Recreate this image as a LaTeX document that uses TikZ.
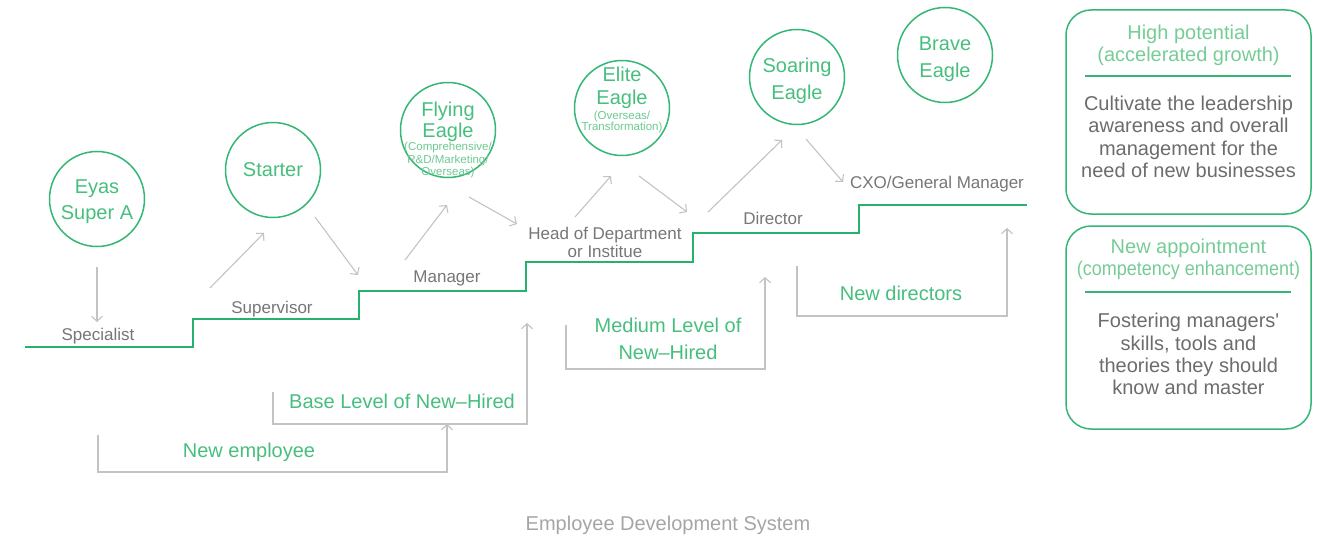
\documentclass[tikz,border=0pt]{standalone}
\usepackage{fontspec}
\setmainfont{Liberation Sans}
\usetikzlibrary{arrows.meta}
\definecolor{cgreen}{RGB}{52,182,116}
\definecolor{tgreen}{RGB}{72,190,126}
\definecolor{lgreen}{RGB}{110,200,145}
\definecolor{hgreen}{RGB}{118,204,150}
\definecolor{stepgreen}{RGB}{38,178,108}
\definecolor{lbl}{RGB}{118,118,118}
\definecolor{boxtxt}{RGB}{108,108,108}
\definecolor{arrgray}{RGB}{195,195,195}
\definecolor{ttl}{RGB}{165,165,165}
\tikzset{
  eaglecirc/.style={circle, draw=cgreen, line width=1.5pt, minimum size=95pt, inner sep=0pt},
  eagletxt/.style={text=tgreen, align=center, inner sep=0pt, font=\fontsize{20}{#1}\selectfont},
  smalltxt/.style={text=lgreen, align=center, inner sep=0pt, font=\fontsize{11.5}{#1}\selectfont},
  lvl/.style={text=lbl, align=center, inner sep=0pt, font=\fontsize{17}{18}\selectfont},
  grn/.style={text=tgreen, align=center, inner sep=0pt, font=\fontsize{20}{27}\selectfont},
  arr/.style={draw=arrgray, line width=1.1pt, -{Straight Barb[length=5pt,width=11pt]}},
  stair/.style={draw=stepgreen, line width=1.7pt},
  sidebox/.style={draw=cgreen, line width=1.5pt, rounded corners=25pt, minimum width=245pt, inner sep=0pt},
  sidehead/.style={text=hgreen, align=center, inner sep=0pt, font=\fontsize{20}{22}\selectfont},
  sidebody/.style={text=boxtxt, align=center, inner sep=0pt, font=\fontsize{20}{22.3}\selectfont},
  sep/.style={draw=cgreen, line width=1.3pt},
  titletxt/.style={text=ttl, inner sep=0pt, font=\fontsize{20}{24}\selectfont}
}
\begin{document}
\begin{tikzpicture}[x=1pt,y=-1pt]
\useasboundingbox (0,0) rectangle (1335,540);

% staircase
\draw[stair] (25,347) -- (193,347) -- (193,319) -- (359,319) -- (359,291) -- (526,291)
  -- (526,262) -- (693,262) -- (693,233) -- (859,233) -- (859,205) -- (1027,205);

% eagle circles
\node[eaglecirc] (eyas) at (97,199) {};
\node[eagletxt=26] (eyast) at (97,201.5) {Eyas\\Super A};
\node[eaglecirc] (starter) at (273,170) {};
\node[eagletxt=26] (startert) at (273,170) {Starter};
\node[eaglecirc] (flying) at (448,130) {};
\node[eagletxt=21] (flyingt) at (448,122) {Flying\\Eagle};
\node[smalltxt=12.5] (flyings) at (448,160.5) {(Comprehensive/\\R\&D/Marketing/\\Overseas)};
\node[eaglecirc] (elite) at (622,108) {};
\node[eagletxt=23] (elitet) at (622,88) {Elite\\Eagle};
\node[smalltxt=11] (elites) at (622,122) {(Overseas/\\Transformation)};
\node[eaglecirc] (soaring) at (797,77) {};
\node[eagletxt=27] (soaringt) at (797,80.5) {Soaring\\Eagle};
\node[eaglecirc] (brave) at (945,55) {};
\node[eagletxt=27] (bravet) at (945,59) {Brave\\Eagle};

% level labels
\node[lvl] (spec) at (98,336) {Specialist};
\node[lvl] (sup) at (272,309) {Supervisor};
\node[lvl] (mgr) at (447,278) {Manager};
\node[lvl] (hod) at (605,242) {Head of Department\\or Institue};
\node[lvl] (dir) at (773,218.5) {Director};
\node[lvl] (cxo) at (937,184) {CXO/General Manager};

% arrow end points
\coordinate (a1s) at (97,267);  \coordinate (a1e) at (97,322);
\coordinate (a2s) at (210,288); \coordinate (a2e) at (264,233);
\coordinate (a3s) at (315,217); \coordinate (a3e) at (358,275);
\coordinate (a4s) at (405,260); \coordinate (a4e) at (447,205);
\coordinate (a5s) at (469,197); \coordinate (a5e) at (517,224);
\coordinate (a6s) at (575,217); \coordinate (a6e) at (611,176);
\coordinate (a7s) at (639,176); \coordinate (a7e) at (687,212);
\coordinate (a8s) at (708,212); \coordinate (a8e) at (782,140);
\coordinate (a9s) at (806,139); \coordinate (a9e) at (843,182);
\draw[arr] (a1s) -- (a1e);
\draw[arr] (a2s) -- (a2e);
\draw[arr] (a3s) -- (a3e);
\draw[arr] (a4s) -- (a4e);
\draw[arr] (a5s) -- (a5e);
\draw[arr] (a6s) -- (a6e);
\draw[arr] (a7s) -- (a7e);
\draw[arr] (a8s) -- (a8e);
\draw[arr] (a9s) -- (a9e);

% entry brackets
\coordinate (ne1) at (98,435);  \coordinate (ne2) at (98,472);  \coordinate (ne3) at (447,424);
\coordinate (bl1) at (273,392); \coordinate (bl2) at (273,424); \coordinate (bl3) at (527,323);
\coordinate (ml1) at (566,325); \coordinate (ml2) at (566,369); \coordinate (ml3) at (765,277);
\coordinate (nd1) at (797,266); \coordinate (nd2) at (797,316); \coordinate (nd3) at (1007,228);
\draw[arr] (ne1) -- (ne2) -| (ne3);
\draw[arr] (bl1) -- (bl2) -| (bl3);
\draw[arr] (ml1) -- (ml2) -| (ml3);
\draw[arr] (nd1) -- (nd2) -| (nd3);

\node[grn] (newemp) at (249,452.5) {New employee};
\node[grn] (base) at (402,401) {Base Level of New–Hired};
\node[grn] (medium) at (668,339) {Medium Level of\\New–Hired};
\node[grn] (newdir) at (901,293) {New directors};

% side boxes
\node[sidebox, minimum height=204pt] (hp) at (1188.5,112) {};
\node[sidehead] (hph) at (1188.5,45) {High potential\\(accelerated growth)};
\draw[sep] (1085,76) -- (1291,76);
\node[sidebody] (hpb) at (1188.5,137) {Cultivate the leadership\\awareness and overall\\management for the\\need of new businesses};

\node[sidebox, minimum height=203pt] (na) at (1188.5,327.5) {};
\node[sidehead] (nah) at (1188.5,259.5) {New appointment\\\scalebox{0.9}[1]{(competency enhancement)}};
\draw[sep] (1085,292) -- (1291,292);
\node[sidebody] (nab) at (1188.5,354) {Fostering managers\textquotesingle\\skills, tools and\\theories they should\\know and master};

\node[titletxt] (title) at (668,525) {Employee Development System};
\end{tikzpicture}
\end{document}
